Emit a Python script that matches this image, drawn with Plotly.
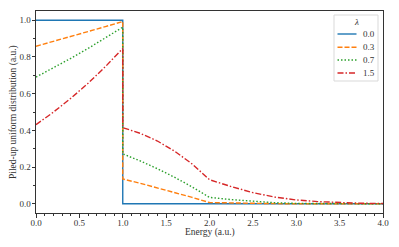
import plotly.graph_objects as go

energy = [0.0, 0.2, 0.4, 0.6, 0.8, 1.0, 1.0, 1.2, 1.4, 1.6, 1.8, 2.0,
          2.25, 2.5, 2.75, 3.0, 3.25, 3.5, 3.75, 4.0]
lam_labels = ["0.0", "0.3", "0.7", "1.5"]
y_l00 = [1.0, 1.0, 1.0, 1.0, 1.0, 1.0, 0.0, 0.0, 0.0, 0.0, 0.0, 0.0,
         0.0, 0.0, 0.0, 0.0, 0.0, 0.0, 0.0, 0.0]
y_l03 = [0.858, 0.884, 0.910, 0.937, 0.965, 0.993, 0.135, 0.112, 0.087, 0.062, 0.035, 0.007,
         0.004, 0.002, 0.001, 0.0002, 0.0001, 0.0, 0.0, 0.0]
y_l07 = [0.690, 0.740, 0.792, 0.846, 0.903, 0.962, 0.272, 0.234, 0.191, 0.144, 0.092, 0.035,
         0.023, 0.013, 0.006, 0.0024, 0.0012, 0.0005, 0.0002, 0.0001]
y_l15 = [0.431, 0.499, 0.574, 0.656, 0.747, 0.846, 0.415, 0.384, 0.342, 0.286, 0.217, 0.131,
         0.094, 0.061, 0.037, 0.021, 0.012, 0.006, 0.003, 0.002]

series = [y_l00, y_l03, y_l07, y_l15]
colors = ["#1f77b4", "#ff7f0e", "#2ca02c", "#d62728"]
dashes = ["solid", "5px,2px", "1.5px,2px", "6px,2px,1.5px,2px"]

FONT = "Liberation Serif"
TXT = "#333333"
W, H = 399, 247
L, R, T, B = 36, 16, 11, 34
PW, PH = W - L - R, H - T - B


def px_x(p):
    return (p - L) / PW


def px_y(p):
    return (H - B - p) / PH


fig = go.Figure()
for lab, ys, c, d in zip(lam_labels, series, colors, dashes):
    fig.add_trace(go.Scatter(x=energy, y=ys, mode="lines", name=lab, showlegend=False,
                             line=dict(color=c, width=1.4, dash=d)))

axis_common = dict(showline=True, mirror=True, linecolor=TXT, linewidth=1,
                   ticks="outside", ticklen=3.5, tickwidth=0.8, tickcolor=TXT,
                   showgrid=False, zeroline=False, automargin=False,
                   tickfont=dict(family=FONT, size=9, color=TXT))
fig.update_xaxes(range=[0, 4], dtick=0.5, tick0=0, tickformat=".1f", ticklabelstandoff=-2,
                 minor=dict(dtick=0.1, ticks="outside", ticklen=2, tickcolor=TXT, tickwidth=0.6),
                 **axis_common)
fig.update_yaxes(range=[-0.05, 1.05], dtick=0.2, tick0=0, tickformat=".1f", ticklabelstandoff=-1,
                 minor=dict(dtick=0.1, ticks="outside", ticklen=2, tickcolor=TXT, tickwidth=0.6),
                 **axis_common)

annotations = [
    dict(text="Energy (a.u.)", xref="paper", yref="paper", x=0.5, y=0, yanchor="middle",
         yshift=-19, showarrow=False, font=dict(family=FONT, size=9.5, color=TXT)),
    dict(text="Piled-up uniform distribution (a.u.)", xref="paper", yref="paper", x=0, y=0.5,
         xanchor="center", yanchor="middle", xshift=-23, textangle=-90, showarrow=False,
         font=dict(family=FONT, size=9.5, color=TXT)),
    dict(text="<i>λ</i>", xref="paper", yref="paper", x=px_x(356), y=px_y(22),
         xanchor="center", yanchor="middle", showarrow=False, font=dict(family=FONT, size=9, color=TXT)),
]
shapes = [
    dict(type="rect", xref="paper", yref="paper", x0=px_x(334), x1=px_x(378), y0=px_y(81), y1=px_y(15),
         fillcolor="rgba(255,255,255,0.85)", line=dict(color="#d9d9d9", width=1)),
]
legend_rows = [34, 47.3, 60, 73]
for lab, c, d, ry in zip(lam_labels, colors, dashes, legend_rows):
    shapes.append(dict(type="line", xref="paper", yref="paper", x0=px_x(337.5), x1=px_x(356.5),
                       y0=px_y(ry), y1=px_y(ry), line=dict(color=c, width=1.4, dash=d)))
    annotations.append(dict(text=lab, xref="paper", yref="paper", x=px_x(369), y=px_y(ry),
                            xanchor="center", yanchor="middle", showarrow=False,
                            font=dict(family=FONT, size=9, color=TXT)))

fig.update_layout(width=W, height=H, margin=dict(l=L, r=R, t=T, b=B),
                  paper_bgcolor="white", plot_bgcolor="white",
                  font=dict(family=FONT, size=9, color=TXT),
                  showlegend=False, annotations=annotations, shapes=shapes)
fig.write_html("out.html", config={"displayModeBar": False},
               post_script="document.body.style.margin='0';")
